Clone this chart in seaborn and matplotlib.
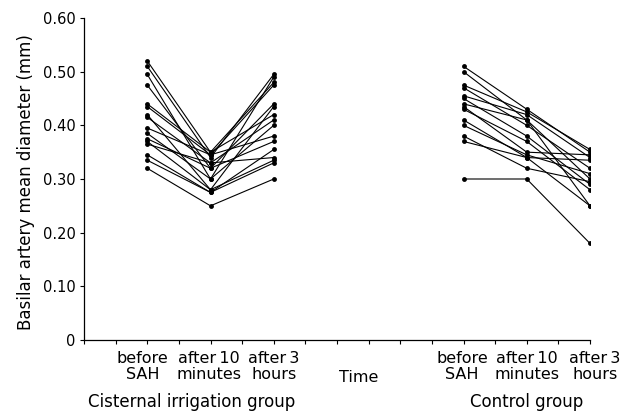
import pandas as pd
import matplotlib
matplotlib.use("Agg")
import matplotlib.pyplot as plt
import seaborn as sns

# x positions on the time axis (0..16)
time_pos_cis = [2, 4, 6]
time_pos_ctrl = [12, 14, 16]

# cisternal irrigation group: before SAH, after 10 minutes, after 3 hours
cis_before = [0.52, 0.51, 0.495, 0.475, 0.44, 0.435, 0.42, 0.415, 0.395, 0.385, 0.375, 0.37, 0.365, 0.345, 0.335, 0.32]
cis_after10 = [0.35, 0.34, 0.30, 0.32, 0.35, 0.345, 0.28, 0.33, 0.345, 0.30, 0.32, 0.28, 0.33, 0.275, 0.275, 0.25]
cis_after3 = [0.48, 0.495, 0.49, 0.44, 0.42, 0.475, 0.435, 0.41, 0.38, 0.40, 0.37, 0.335, 0.34, 0.33, 0.355, 0.30]

# control group
ctrl_before = [0.51, 0.50, 0.475, 0.47, 0.455, 0.45, 0.44, 0.435, 0.43, 0.41, 0.40, 0.38, 0.37, 0.30]
ctrl_after10 = [0.43, 0.41, 0.425, 0.40, 0.42, 0.38, 0.41, 0.35, 0.37, 0.34, 0.345, 0.32, 0.34, 0.30]
ctrl_after3 = [0.35, 0.25, 0.355, 0.32, 0.34, 0.29, 0.30, 0.345, 0.28, 0.335, 0.31, 0.295, 0.25, 0.18]

time_labels = ["before\nSAH", "after\u200910\nminutes", "after\u20093\nhours"]
cis_label_pos = [1.85, 3.95, 6.0]
ctrl_label_pos = [11.95, 14.0, 16.15]

rows = []
for i in range(len(cis_before)):
    for x, v in zip(time_pos_cis, [cis_before[i], cis_after10[i], cis_after3[i]]):
        rows.append({"subject": "c%d" % i, "x": x, "diameter": v})
for i in range(len(ctrl_before)):
    for x, v in zip(time_pos_ctrl, [ctrl_before[i], ctrl_after10[i], ctrl_after3[i]]):
        rows.append({"subject": "k%d" % i, "x": x, "diameter": v})
df = pd.DataFrame(rows)

sns.set_style("ticks")
plt.rcParams["font.family"] = ["DejaVu Sans"]
plt.rcParams["text.color"] = "black"
plt.rcParams["axes.labelcolor"] = "black"
plt.rcParams["xtick.color"] = "black"
plt.rcParams["ytick.color"] = "black"

fig = plt.figure(figsize=(6.31, 4.12), dpi=100)
ax = fig.add_axes([84 / 631, 72 / 412, 506 / 631, 322 / 412])

sns.lineplot(data=df, x="x", y="diameter", units="subject", estimator=None,
             color="black", linewidth=0.8, marker="o", markersize=3.5,
             markeredgewidth=0, ax=ax)

ax.set_xlim(0, 16)
ax.set_ylim(0, 0.6)
ax.set_xticks(range(0, 17))
ax.set_xticklabels([])
ax.set_yticks([0, 0.1, 0.2, 0.3, 0.4, 0.5, 0.6])
ax.set_yticklabels(["0", "0.10", "0.20", "0.30", "0.40", "0.50", "0.60"], fontsize=10.5)
ax.tick_params(axis="both", length=3, width=0.8, color="black", labelcolor="black", pad=3)
ax.set_xlabel("")
ax.set_ylabel("Basilar artery mean diameter (mm)", fontsize=12, color="black")
ax.yaxis.set_label_coords(-0.097, 0.49)
for s in ["top", "right"]:
    ax.spines[s].set_visible(False)
for s in ["left", "bottom"]:
    ax.spines[s].set_linewidth(0.9)
    ax.spines[s].set_color("black")

for pos, lab in zip(cis_label_pos + ctrl_label_pos, time_labels + time_labels):
    ax.annotate(lab, xy=(pos, 0), xycoords=("data", "axes fraction"),
                xytext=(0, -11), textcoords="offset pixels",
                ha="center", va="top", fontsize=11.5, linespacing=1.1,
                color="black")
ax.annotate("Time", xy=(8.7, 0), xycoords=("data", "axes fraction"),
            xytext=(0, -37), textcoords="offset pixels",
            ha="center", va="center", fontsize=11.5, color="black")
ax.annotate("Cisternal irrigation group", xy=(3.4, 0), xycoords=("data", "axes fraction"),
            xytext=(0, -62), textcoords="offset pixels",
            ha="center", va="center", fontsize=12, color="black")
ax.annotate("Control group", xy=(14.0, 0), xycoords=("data", "axes fraction"),
            xytext=(0, -62), textcoords="offset pixels",
            ha="center", va="center", fontsize=12, color="black")

fig.savefig("out.png", dpi=100)
